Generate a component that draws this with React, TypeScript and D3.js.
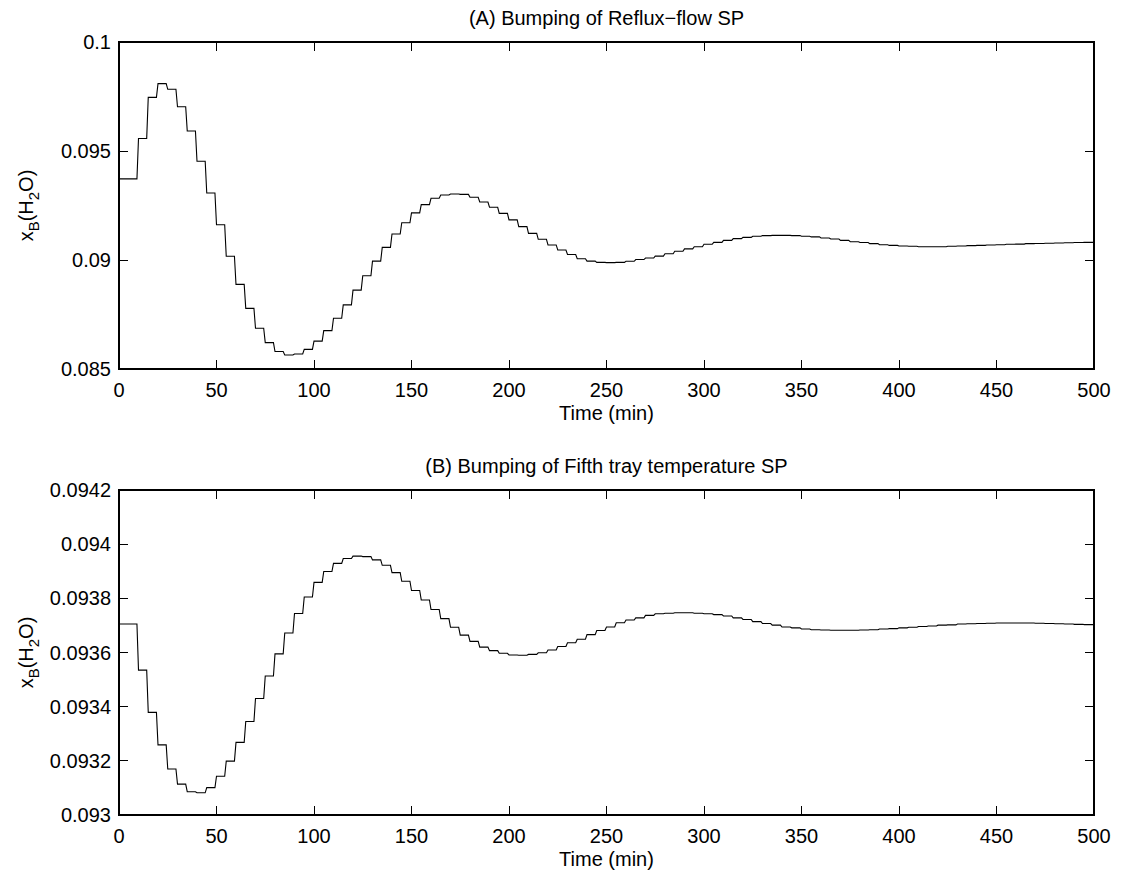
import React from "react";
import * as d3 from "d3";

// Time grid: a sample every 5 min (zero-order hold / staircase)
const TIME_STEP = 5;
// each step change takes a short ramp (simulation output interval), in minutes
const RAMP = 0.8;

// Panel A: Bumping of Reflux-flow SP
const seriesA: number[] = [
  0.09372, 0.09372, 0.09557, 0.09746, 0.09809, 0.09783, 0.09703, 0.09592, 0.09453, 0.09307,
  0.09162, 0.09017, 0.08888, 0.08778, 0.08687, 0.08621, 0.0858, 0.08564, 0.08569, 0.0859,
  0.08628, 0.08676, 0.08733, 0.08794, 0.08862, 0.08928, 0.08995, 0.09058, 0.09119, 0.09171,
  0.09216, 0.09254, 0.09283, 0.09298, 0.09303, 0.09301, 0.09288, 0.09266, 0.09242, 0.09214,
  0.09184, 0.09153, 0.09122, 0.09095, 0.09069, 0.09046, 0.09025, 0.09006, 0.08995, 0.08989,
  0.08988, 0.08989, 0.08994, 0.09002, 0.09009, 0.09018, 0.09029, 0.0904, 0.09051, 0.09061,
  0.09072, 0.09081, 0.0909, 0.09098, 0.09104, 0.09109, 0.09112, 0.09113, 0.09113, 0.09112,
  0.09109, 0.09106, 0.09101, 0.09096, 0.0909, 0.09084, 0.0908, 0.09075, 0.0907, 0.09067,
  0.09064, 0.09063, 0.09061, 0.09061, 0.09061, 0.09063, 0.09064, 0.09066, 0.09067, 0.09069,
  0.0907, 0.09072, 0.09073, 0.09075, 0.09076, 0.09077, 0.09078, 0.09079, 0.0908, 0.09081,
];

// Panel B: Bumping of Fifth tray temperature SP
const seriesB: number[] = [
  0.093705, 0.093705, 0.093535, 0.093379, 0.093259, 0.09317, 0.093114, 0.093086, 0.093082, 0.093101,
  0.093143, 0.093199, 0.093268, 0.093345, 0.09343, 0.093513, 0.093595, 0.093672, 0.093744, 0.093805,
  0.093859, 0.093899, 0.093929, 0.093947, 0.093956, 0.093954, 0.093942, 0.093922, 0.093895, 0.093863,
  0.093829, 0.093794, 0.093759, 0.093725, 0.093693, 0.093664, 0.093641, 0.09362, 0.093607, 0.093597,
  0.093591, 0.09359, 0.093593, 0.093599, 0.093609, 0.093622, 0.093636, 0.093649, 0.093666, 0.093681,
  0.093694, 0.09371, 0.09372, 0.093728, 0.093737, 0.093743, 0.093745, 0.093747, 0.093747, 0.093745,
  0.093743, 0.09374, 0.093735, 0.093728, 0.093722, 0.093714, 0.093707, 0.093701, 0.093694, 0.093691,
  0.093687, 0.093684, 0.093683, 0.093682, 0.093682, 0.093682, 0.093683, 0.093684, 0.093687, 0.093688,
  0.093691, 0.093693, 0.093696, 0.093698, 0.093701, 0.093702, 0.093705, 0.093706, 0.093707, 0.093708,
  0.093709, 0.093709, 0.093709, 0.093709, 0.093708, 0.093707, 0.093706, 0.093705, 0.093704, 0.093703,
];

const xTicks: number[] = [0, 50, 100, 150, 200, 250, 300, 350, 400, 450, 500];
const yTicksA: number[] = [0.085, 0.09, 0.095, 0.1];
const yTicksB: number[] = [0.093, 0.0932, 0.0934, 0.0936, 0.0938, 0.094, 0.0942];
const titleA = "(A) Bumping of Reflux\u2212flow SP";
const titleB = "(B) Bumping of Fifth tray temperature SP";
const xLabel = "Time (min)";

const W = 1131;
const H = 879;
const LEFT = 119;
const RIGHT = 1094;
const FONT = "'Liberation Sans', Arial, Helvetica, sans-serif";
const FS = 20;
const SUB = 15;
const TICK = 9;

type PanelProps = {
  top: number;
  bottom: number;
  data: number[];
  yDomain: [number, number];
  yTicks: number[];
  title: string;
};

function fmt(v: number): string {
  return String(+v.toFixed(6));
}

function Panel({ top, bottom, data, yDomain, yTicks, title }: PanelProps) {
  const x = d3.scaleLinear().domain([0, 500]).range([LEFT, RIGHT]);
  const y = d3.scaleLinear().domain(yDomain).range([bottom, top]);
  const pts: [number, number][] = [];
  data.forEach((v, i) => {
    const t0 = i * TIME_STEP;
    const t1 = Math.min(500, t0 + TIME_STEP);
    pts.push([t0, v]);
    pts.push([i < data.length - 1 ? t1 - RAMP : t1, v]);
  });
  const line = d3
    .line<[number, number]>()
    .x((d) => x(d[0]))
    .y((d) => y(d[1]));
  const midY = (top + bottom) / 2;
  return (
    <g>
      <text x={(LEFT + RIGHT) / 2} y={top - 17} textAnchor="middle" fontSize={FS} fontFamily={FONT}>
        {title}
      </text>
      <path d={line(pts) || ""} fill="none" stroke="#000" strokeWidth={1.1} />
      <rect x={LEFT} y={top} width={RIGHT - LEFT} height={bottom - top} fill="none" stroke="#000" strokeWidth={1.2} shapeRendering="crispEdges" />
      {xTicks.map((t) => (
        <g key={"x" + t}>
          <line x1={x(t)} x2={x(t)} y1={bottom} y2={bottom - TICK} stroke="#000" shapeRendering="crispEdges" />
          <line x1={x(t)} x2={x(t)} y1={top} y2={top + TICK} stroke="#000" shapeRendering="crispEdges" />
          <text x={x(t)} y={bottom + 28} textAnchor="middle" fontSize={FS} fontFamily={FONT}>
            {t}
          </text>
        </g>
      ))}
      {yTicks.map((t) => (
        <g key={"y" + t}>
          <line x1={LEFT} x2={LEFT + TICK} y1={y(t)} y2={y(t)} stroke="#000" shapeRendering="crispEdges" />
          <line x1={RIGHT} x2={RIGHT - TICK} y1={y(t)} y2={y(t)} stroke="#000" shapeRendering="crispEdges" />
          <text x={LEFT - 8} y={y(t)} dy="0.35em" textAnchor="end" fontSize={FS} fontFamily={FONT}>
            {fmt(t)}
          </text>
        </g>
      ))}
      <text x={(LEFT + RIGHT) / 2} y={bottom + 51} textAnchor="middle" fontSize={FS} fontFamily={FONT}>
        {xLabel}
      </text>
      <text
        transform={`translate(33,${midY}) rotate(-90)`}
        textAnchor="middle"
        fontSize={FS}
        fontFamily={FONT}
      >
        x<tspan fontSize={SUB} dy={6}>B</tspan>
        <tspan dy={-6}>(H</tspan>
        <tspan fontSize={SUB} dy={6}>2</tspan>
        <tspan dy={-6}>O)</tspan>
      </text>
    </g>
  );
}

export default function App() {
  return (
    <svg
      width={W}
      height={H}
      style={{ position: "absolute", left: 0, top: 0, background: "#fff" }}
    >
      <rect x={0} y={0} width={W} height={H} fill="#fff" />
      <Panel top={42} bottom={369} data={seriesA} yDomain={[0.085, 0.1]} yTicks={yTicksA} title={titleA} />
      <Panel top={490} bottom={815} data={seriesB} yDomain={[0.093, 0.0942]} yTicks={yTicksB} title={titleB} />
    </svg>
  );
}
